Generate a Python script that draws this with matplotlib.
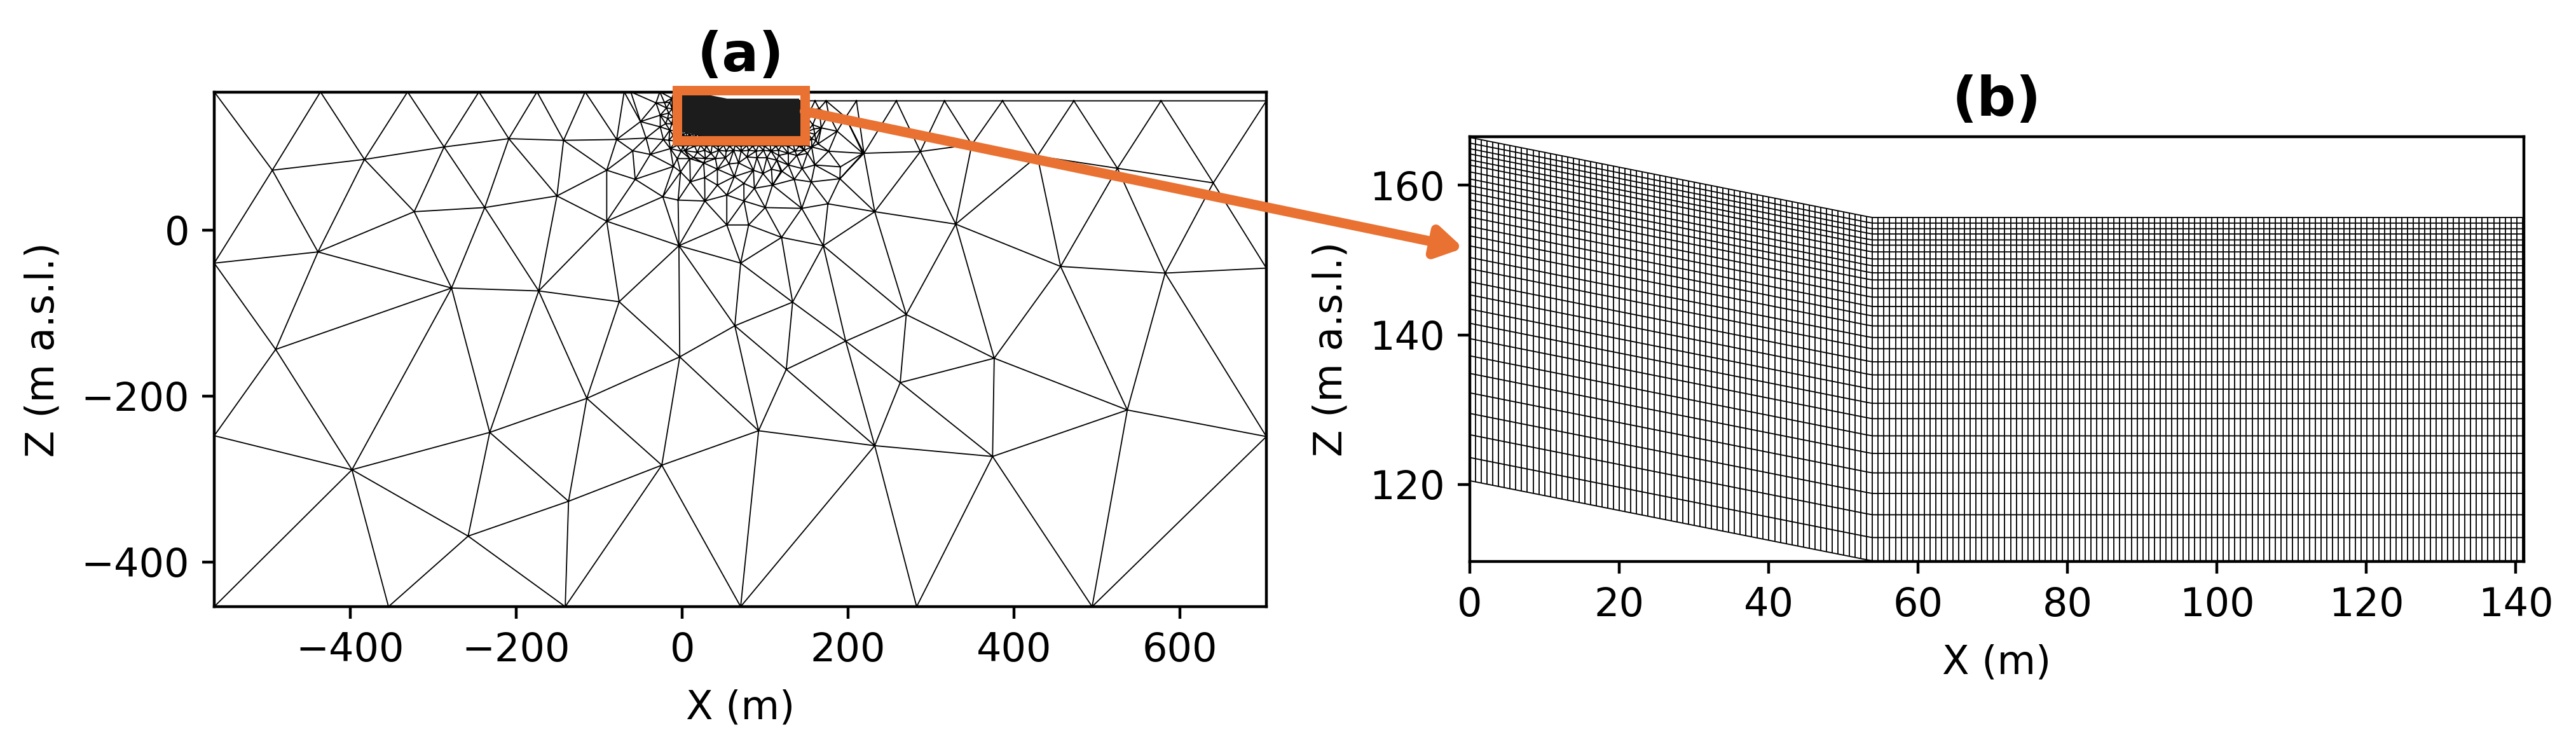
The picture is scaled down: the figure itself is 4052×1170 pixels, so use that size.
import numpy as np
import matplotlib
matplotlib.use("Agg")
import matplotlib.pyplot as plt
import matplotlib.tri as mtri
from matplotlib.patches import Rectangle, ConnectionPatch

W, H, DPI = 4052, 1170, 400
ORANGE = "#E97132"

# ---- panel (b) structured mesh ----
column_x = [
 0.00,0.77,1.54,2.31,3.08,3.85,4.62,5.39,6.16,6.93,
 7.70,8.47,9.24,10.01,10.78,11.55,12.32,13.09,13.86,14.63,
 15.40,16.17,16.94,17.71,18.48,19.25,20.02,20.79,21.56,22.33,
 23.10,23.87,24.64,25.41,26.18,26.95,27.72,28.49,29.26,30.03,
 30.80,31.57,32.34,33.11,33.88,34.65,35.42,36.19,36.96,37.73,
 38.50,39.27,40.04,40.81,41.58,42.35,43.12,43.89,44.66,45.43,
 46.20,46.97,47.74,48.51,49.28,50.05,50.82,51.59,52.36,53.13,
 53.90,54.67,55.44,56.21,56.98,57.75,58.52,59.29,60.06,60.83,
 61.60,62.37,63.14,63.91,64.68,65.45,66.22,66.99,67.76,68.53,
 69.30,70.07,70.84,71.61,72.38,73.15,73.92,74.69,75.46,76.23,
 77.00,77.77,78.54,79.31,80.08,80.85,81.62,82.39,83.16,83.93,
 84.70,85.47,86.24,87.01,87.78,88.55,89.32,90.09,90.86,91.63,
 92.40,93.17,93.94,94.71,95.48,96.25,97.02,97.79,98.56,99.33,
 100.10,100.87,101.64,102.41,103.18,103.95,104.72,105.49,106.26,107.03,
 107.80,108.57,109.34,110.11,110.88,111.65,112.42,113.19,113.96,114.73,
 115.50,116.27,117.04,117.81,118.58,119.35,120.12,120.89,121.66,122.43,
 123.20,123.97,124.74,125.51,126.28,127.05,127.82,128.59,129.36,130.13,
 130.90,131.67,132.44,133.21,133.98,134.75,135.52,136.29,137.06,137.83,
 138.60,139.37,140.14,140.91]
layer_depth = [0.0,0.75,1.5,2.2,3.0,3.7,4.6,5.55,6.45,7.4,8.35,9.5,10.65,11.9,13.15,
               14.5,16.05,17.55,19.3,21.05,22.95,24.85,26.9,29.2,31.55,34.15,36.9,39.75,42.8,45.9]
surface_x = [0.0, 53.8, 141.1]
surface_z = [166.4, 155.7, 155.7]

# ---- panel (a) unstructured mesh nodes ----
edge_nodes = [
 (-564,166.4),(-436,166.4),(-331,166.4),(-245,166.4),(-175,166.4),(-117,166.4),(-70,166.4),(-62,166.4),
 (-27,166.4),(-10,166.4),(0,166.4),(53.8,155.7),(141,155.7),(160,155.6),(173.4,155.6),(210,155.6),
 (258,155.6),(316,155.6),(386,155.6),(472,155.6),(577,155.6),(704,155.6),
 (704,-46),(704,-249),(704,-454),(494,-454),(282.5,-454),(70.4,-454),(-141,-454),(-354,-454),(-564,-454),
 (-564,-248),(-564,-40)]
far_nodes = [
 (-494,72),(-383,85),(-287,100),(-209,110),(-143,108),(-151,41),(-238,27),(-323,22),(-439,-26.5),
 (-278,-70),(-173,-73.5),(-91,10.5),(-76,-86.5),(-4,-19),(-3,-153),(-490,-144),(-115,-203),(-232,-244),
 (-398,-289),(-24.6,-283.5),(-137,-327),(-258,-369),
 (219,92.4),(287,94.5),(349,103),(428,89),(524.5,74.3),(640,56.7),(232,22),(329.6,7),(456,-44),(582,-52),
 (170,-19),(119.7,-9),(70.4,-40),(133,-87),(270,-102),(63.4,-115.5),(197,-134),(376,-154.6),(125.4,-168),
 (262.7,-184),(536.4,-217),(92,-242),(232,-260),(374,-273)]
near_nodes = [
 (-79,109),(-91,72),(-50.3,130.6),(-31.6,153.1),(-26.5,138.3),(-26.5,124.2),(-43.6,110.7),(-22.7,108.9),
 (-59.7,95.4),(-38.5,91),(-14.3,98),(-10.7,76.5),(-56.7,61),(-23.4,40),(-19,147),(-17.6,134.4),(-15,120.4),
 (-21.4,153.6),(-12.5,158.7),(-16.3,140.8),(-12.5,128),(-20,128),(-15,153.6),(-12,146),(-11,136),(-11,114),
 (-16,108),(-1.2,94.9),(9.7,57.9),(25.8,80.8),(42.4,73.2),(62.8,64.3),(74.3,56.1),(87,50.2),(108.8,54),
 (97.3,68),(85.8,71.9),(119,70.6),(107.5,73.2),(67.9,80.8),(56.4,79.6),(34.7,92.3),(18.1,93.6),(9.2,86),
 (27,63),(42.4,54),(53.7,42),(74.4,34.9),(27.3,34.9),(53.7,6),(80,6),(100,27),(144,26),(175.6,31.5),
 (190,61.7),(190.5,76),(-5,36),(135,60.9),(155.5,57.9),(144.5,74),(127.9,78.3),(138.1,89.8),(120.3,70.6),
 (116.4,89.8),(127.9,92.3),(159.8,78.3),(150.9,92.3),(176.4,94.9),(163.7,103.8),(217.8,92.3),(156,100),
 (147,96.2),(161,107.7),(156,110),(159.8,115.3),(158.6,121.7),(167.5,123),(186.7,119),(157.3,126.8),
 (196.9,135.7),(176.4,139.6),(165,146),(154.7,144.7),(152,134),(150,118)]
graded_nodes = [
 (-8,107),(-3,107.5),(2,108),(7,107),(12,108),(17,107),(22,108),(27,107),(32,108),(37,107),(42,108),(47,107),
 (52,108),(57,107),(62,108),(67,107),(72,108),(77,107),(82,108),(87,107),(92,108),(97,107),(102,108),(107,107),
 (112,108),(117,107),(122,108),(127,107),(132,108),(137,107),(142,108),(147,107),
 (-6,102),(1,101),(8,102),(15,101),(22,102),(29,101),(36,102),(43,101),(50,102),(57,101),(64,102),(71,101),
 (78,102),(85,101),(92,102),(99,101),(106,102),(113,101),(120,102),(127,101),(134,102),(141,101),(148,102),
 (3,95.5),(27,96),(44,96),(53,95),(62,96),(71,95),(80,96),(89,95),(98,96),(107,95),(116,96),(136,95),(144,101),
 (14,87),(28,86),(40,86),(52,87),(78,88),(90,87),(102,87),(114,84),(-6,86),(-2,70),
 (-3,118),(1,120),(5,118),(9,120),(13,116),(1,114),(5,113),(9,114),(13,112),(17,115),(21,114),(17,111),
 (21,111),(25,112),(29,113),(33,111),(37,111),(-3,112)]

# ---- ticks and labels ----
a_xticks = [-400, -200, 0, 200, 400, 600]
a_yticks = [-400, -200, 0]
b_xticks = [0, 20, 40, 60, 80, 100, 120, 140]
b_yticks = [120, 140, 160]

fig = plt.figure(figsize=(W / DPI, H / DPI), dpi=DPI)


def axes_px(left, top, right, bottom):
    return fig.add_axes([left / W, 1 - bottom / H, (right - left) / W, (bottom - top) / H])


ax_a = axes_px(337, 145, 1992, 954)
ax_b = axes_px(2312, 215, 3970, 883)


def draw_grid(ax, lw, color):
    xs = np.array(column_x)
    top = np.interp(xs, surface_x, surface_z)
    for d in layer_depth:
        ax.plot(xs, top - d, color=color, lw=lw, solid_capstyle="butt")
    for x, t in zip(xs, top):
        ax.plot([x, x], [t, t - layer_depth[-1]], color=color, lw=lw, solid_capstyle="butt")


# panel (a)
nodes = np.array(edge_nodes + far_nodes + near_nodes + graded_nodes, dtype=float)
tri = mtri.Triangulation(nodes[:, 0], nodes[:, 1])
cx = nodes[tri.triangles, 0].mean(axis=1)
cz = nodes[tri.triangles, 1].mean(axis=1)
tri.set_mask(cz > np.interp(cx, surface_x + [704.0], surface_z + [155.7]) + 0.05)
ax_a.triplot(tri, color="k", lw=0.33)
draw_grid(ax_a, 1.2, "#1c1c1c")
ax_a.set_xlim(-564, 704)
ax_a.set_ylim(-454, 166)
ax_a.set_xticks(a_xticks)
ax_a.set_yticks(a_yticks)
ax_a.set_xlabel("X (m)", fontsize=11.2, labelpad=5.5)
ax_a.set_ylabel("Z (m a.s.l.)", fontsize=11.2, labelpad=5.5)
ax_a.tick_params(labelsize=11.2)
ax_a.set_title("(a)", fontsize=15.5, fontweight="bold", pad=6)

# panel (b)
draw_grid(ax_b, 0.33, "k")
ax_b.set_xlim(0, 141.1)
ax_b.set_ylim(109.7, 166.5)
ax_b.set_xticks(b_xticks)
ax_b.set_yticks(b_yticks)
ax_b.set_xlabel("X (m)", fontsize=11.2, labelpad=5.5)
ax_b.set_ylabel("Z (m a.s.l.)", fontsize=11.2, labelpad=5.5)
ax_b.tick_params(labelsize=11.2)
ax_b.set_title("(b)", fontsize=15.5, fontweight="bold", pad=6)

# zoom box and arrow
ax_a.add_patch(Rectangle((-6.5, 108), 154, 60.5, fill=False, ec=ORANGE, lw=2.7,
                         clip_on=False, zorder=6, joinstyle="miter"))
arrow = ConnectionPatch(xyA=(147.5, 143), coordsA=ax_a.transData,
                        xyB=(-0.85, 151.6), coordsB=ax_b.transData,
                        arrowstyle="-|>,head_length=0.6,head_width=0.36", mutation_scale=10,
                        color=ORANGE, lw=2.8, shrinkA=0, shrinkB=0, zorder=7)
fig.add_artist(arrow)

fig.savefig("out.png", dpi=DPI)
